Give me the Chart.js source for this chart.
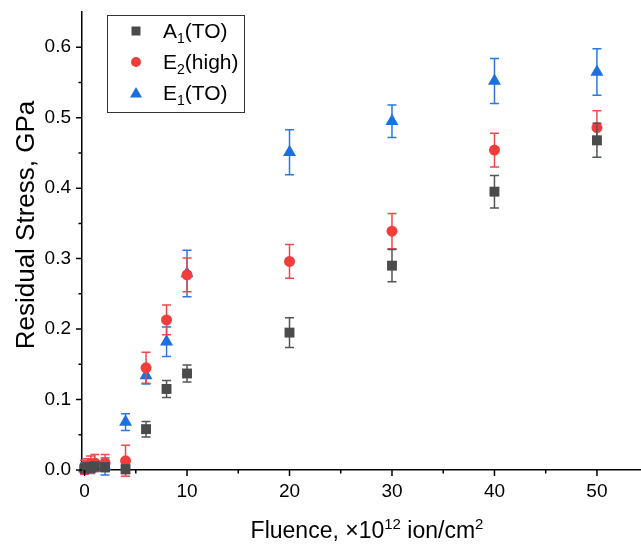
<!DOCTYPE html>
<html>
<head>
<meta charset="utf-8">
<script src="https://cdn.jsdelivr.net/npm/chart.js@4.4.0/dist/chart.umd.min.js"></script>
<style>
  html, body { margin: 0; padding: 0; background: #fff; }
</style>
</head>
<body>
<canvas id="stress-chart" width="641" height="544"></canvas>
<script>
// Fluence, x10^12 ion/cm2
const fluence = [0, 0.3, 0.6, 1, 2, 4, 6, 8, 10, 20, 30, 40, 50];

// Residual stress (GPa) and error for each mode
const a1TO = [0.002, 0.004, 0.003, 0.005, 0.004, 0.001, 0.058, 0.115, 0.137, 0.195, 0.290, 0.395, 0.468];
const a1TOErr = [0.006, 0.006, 0.006, 0.006, 0.006, 0.006, 0.011, 0.012, 0.012, 0.021, 0.023, 0.023, 0.024];

const e2High = [0.004, 0.006, 0.008, 0.010, 0.010, 0.013, 0.145, 0.213, 0.277, 0.296, 0.339, 0.454, 0.486];
const e2HighErr = [0.010, 0.010, 0.012, 0.012, 0.012, 0.022, 0.022, 0.021, 0.024, 0.024, 0.025, 0.024, 0.024];

const e1TO = [0.002, 0.004, 0.003, 0.006, 0.005, 0.068, 0.134, 0.182, 0.279, 0.451, 0.495, 0.552, 0.565];
const e1TOErr = [0.008, 0.008, 0.008, 0.008, 0.012, 0.012, 0.012, 0.021, 0.033, 0.032, 0.023, 0.032, 0.033];

// axis ticks
const xMajor = [0, 10, 20, 30, 40, 50];
const xMinor = [5, 15, 25, 35, 45];
const yMajor = [0, 0.1, 0.2, 0.3, 0.4, 0.5, 0.6];
const yMinor = [0.05, 0.15, 0.25, 0.35, 0.45, 0.55];

const GRAY = "#4b4b4b";
const RED = "#f23d3d";
const BLUE = "#1c6fde";
const FONT = "'Liberation Sans', Arial, sans-serif";

const pts = (ys) => ys.map((y, i) => ({ x: fluence[i], y: y }));

// error bars, drawn just before each dataset so its marker sits on top
const errorBars = {
  id: "errorBars",
  beforeDatasetDraw(chart, args) {
    const ds = chart.data.datasets[args.index];
    if (!ds.errors) return;
    const ctx = chart.ctx;
    const xs = chart.scales.x;
    const ys = chart.scales.y;
    ctx.save();
    ctx.strokeStyle = ds.errColor;
    ctx.lineWidth = 1.5;
    ds.data.forEach((p, i) => {
      const x = xs.getPixelForValue(p.x);
      const top = ys.getPixelForValue(p.y + ds.errors[i]);
      const bot = ys.getPixelForValue(p.y - ds.errors[i]);
      ctx.beginPath();
      ctx.moveTo(x, top);
      ctx.lineTo(x, bot);
      ctx.moveTo(x - 4.5, top);
      ctx.lineTo(x + 4.5, top);
      ctx.moveTo(x - 4.5, bot);
      ctx.lineTo(x + 4.5, bot);
      ctx.stroke();
    });
    ctx.restore();
  },
};

// outward major / minor tick marks, axis titles and legend box
const decorations = {
  id: "decorations",
  afterDraw(chart) {
    const ctx = chart.ctx;
    const xs = chart.scales.x;
    const ys = chart.scales.y;
    const area = chart.chartArea;
    ctx.save();
    ctx.strokeStyle = "#000";
    ctx.lineWidth = 1.5;
    ctx.beginPath();
    xMajor.forEach((v) => { const x = xs.getPixelForValue(v); ctx.moveTo(x, area.bottom); ctx.lineTo(x, area.bottom + 6); });
    xMinor.forEach((v) => { const x = xs.getPixelForValue(v); ctx.moveTo(x, area.bottom); ctx.lineTo(x, area.bottom + 3.5); });
    yMajor.forEach((v) => { const y = ys.getPixelForValue(v); ctx.moveTo(area.left, y); ctx.lineTo(area.left - 6, y); });
    yMinor.forEach((v) => { const y = ys.getPixelForValue(v); ctx.moveTo(area.left, y); ctx.lineTo(area.left - 3.5, y); });
    ctx.stroke();

    ctx.fillStyle = "#000";
    ctx.textBaseline = "alphabetic";

    // x title with superscripts
    const big = "23px " + FONT;
    const small = "15px " + FONT;
    const parts = [
      ["Fluence, \u00d710", big, 0],
      ["12", small, -9],
      [" ion/cm", big, 0],
      ["2", small, -9],
    ];
    let w = 0;
    parts.forEach((p) => { ctx.font = p[1]; w += ctx.measureText(p[0]).width; });
    let x = 367 - w / 2;
    ctx.textAlign = "left";
    parts.forEach((p) => {
      ctx.font = p[1];
      ctx.fillText(p[0], x, 538 + p[2]);
      x += ctx.measureText(p[0]).width;
    });

    // y title
    ctx.save();
    ctx.translate(34, 225);
    ctx.rotate(-Math.PI / 2);
    ctx.font = "26px " + FONT;
    ctx.textAlign = "center";
    ctx.fillText("Residual Stress, GPa", 0, 0);
    ctx.restore();

    // legend
    ctx.lineWidth = 1;
    ctx.strokeStyle = "#333";
    ctx.strokeRect(107.5, 15.5, 137, 97);
    const rows = [
      { y: 31, shape: "rect", color: GRAY, main: "A", sub: "1", rest: "(TO)" },
      { y: 62, shape: "circle", color: RED, main: "E", sub: "2", rest: "(high)" },
      { y: 93, shape: "triangle", color: BLUE, main: "E", sub: "1", rest: "(TO)" },
    ];
    rows.forEach((r) => {
      const mx = 136;
      ctx.fillStyle = r.color;
      ctx.beginPath();
      if (r.shape === "rect") ctx.rect(mx - 4.5, r.y - 4.5, 9, 9);
      else if (r.shape === "circle") ctx.arc(mx, r.y, 5, 0, Math.PI * 2);
      else { ctx.moveTo(mx, r.y - 6); ctx.lineTo(mx + 6, r.y + 4.5); ctx.lineTo(mx - 6, r.y + 4.5); ctx.closePath(); }
      ctx.fill();
      ctx.fillStyle = "#000";
      let tx = 163;
      const base = r.y + 7;
      ctx.font = "21px " + FONT;
      ctx.fillText(r.main, tx, base);
      tx += ctx.measureText(r.main).width;
      ctx.font = "14px " + FONT;
      ctx.fillText(r.sub, tx, base + 5);
      tx += ctx.measureText(r.sub).width;
      ctx.font = "21px " + FONT;
      ctx.fillText(r.rest, tx, base);
    });
    ctx.restore();
  },
};

const ctx = document.getElementById("stress-chart").getContext("2d");
const chart = new Chart(ctx, {
  type: "scatter",
  data: {
    datasets: [
      {
        label: "A1(TO)",
        data: pts(a1TO),
        errors: a1TOErr,
        errColor: "#555",
        pointStyle: "rect",
        pointRadius: 7,
        backgroundColor: GRAY,
        borderWidth: 0,
        clip: false,
      },
      {
        label: "E2(high)",
        data: pts(e2High),
        errors: e2HighErr,
        errColor: "#f04848",
        pointStyle: "circle",
        pointRadius: 5.5,
        backgroundColor: RED,
        borderWidth: 0,
        clip: false,
      },
      {
        label: "E1(TO)",
        data: pts(e1TO),
        errors: e1TOErr,
        errColor: "#2a78e0",
        pointStyle: "triangle",
        pointRadius: 7.5,
        backgroundColor: BLUE,
        borderWidth: 0,
        clip: false,
      },
    ],
  },
  options: {
    responsive: false,
    animation: false,
    devicePixelRatio: 1,
    layout: { autoPadding: false, padding: { top: 12, right: 0, left: 0, bottom: 0 } },
    plugins: { legend: { display: false }, tooltip: { enabled: false } },
    scales: {
      x: {
        type: "linear",
        min: -0.25,
        max: 54.3,
        afterBuildTicks: (s) => { s.ticks = xMajor.map((v) => ({ value: v })); },
        afterFit: (s) => { s.height = 74; s.paddingLeft = 0; s.paddingRight = 0; },
        grid: { display: true, drawOnChartArea: false, drawTicks: false },
        border: { display: true, color: "#000", width: 1.5 },
        ticks: { padding: 10, color: "#000", font: { family: FONT, size: 19 }, maxRotation: 0 },
      },
      y: {
        type: "linear",
        min: 0,
        max: 0.65,
        afterBuildTicks: (s) => { s.ticks = yMajor.map((v) => ({ value: v })); },
        afterFit: (s) => { s.width = 82; s.paddingTop = 0; s.paddingBottom = 0; },
        grid: { display: true, drawOnChartArea: false, drawTicks: false },
        border: { display: true, color: "#000", width: 1.5 },
        ticks: {
          padding: 11,
          color: "#000",
          font: { family: FONT, size: 19 },
          callback: (v) => v.toFixed(1),
        },
      },
    },
  },
  plugins: [errorBars, decorations],
});
</script>
</body>
</html>
